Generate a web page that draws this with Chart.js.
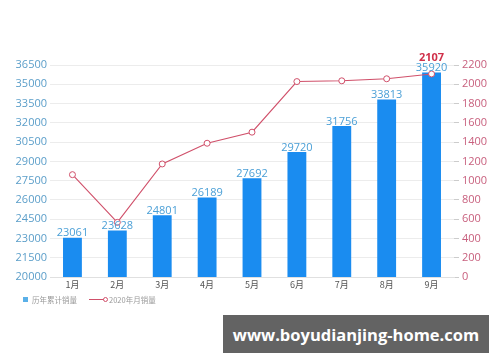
<!DOCTYPE html>
<html>
<head>
<meta charset="utf-8">
<script src="https://cdn.jsdelivr.net/npm/chart.js@4/dist/chart.umd.min.js"></script>
<style>
  body { margin: 0; background: #fff; }
  #wrap { position: relative; width: 500px; height: 362px; font-family: "Noto Sans CJK SC", "Noto Sans", sans-serif; }
  #legend { position: absolute; left: 23px; top: 294px; font-size: 7.5px; color: #999; display: flex; align-items: center; white-space: nowrap; }
  #legend .sq { display: inline-block; width: 5px; height: 5px; background: #5ab0e8; margin-right: 4px; }
  #legend .ln { position: relative; display: inline-block; width: 15px; height: 1px; background: #d0506a; margin: 0 5px 0 12px; }
  #legend .ln i { position: absolute; right: -4px; top: -2px; width: 3px; height: 3px; border: 1px solid #d0506a; border-radius: 50%; background: #fff; }
  #mark { position: absolute; left: 223px; top: 315px; width: 266px; height: 38px; background: #636363; color: #fff; white-space: nowrap;
          font: bold 16.5px "Open Sans", sans-serif; display: flex; align-items: center; justify-content: center; }
</style>
</head>
<body>
<div id="wrap">
  <canvas id="myChart" width="500" height="362"></canvas>
  <div id="legend"><span class="sq"></span>历年累计销量<span class="ln"><i></i></span>2020年月销量</div>
  <div id="mark">www.boyudianjing-home.com</div>
</div>
<script>
const months = ["1月", "2月", "3月", "4月", "5月", "6月", "7月", "8月", "9月"];
const totalSales = [23061, 23628, 24801, 26189, 27692, 29720, 31756, 33813, 35920];
const monthSales = [1062, 567, 1173, 1388, 1503, 2028, 2036, 2057, 2107];

// value labels: every bar, only the last point of the line
const labelPlugin = {
    id: "valueLabels",
    afterDatasetsDraw: (chart) => {
        const ctx = chart.ctx;
        ctx.save();
        ctx.textAlign = "center";
        ctx.textBaseline = "bottom";
        ctx.font = "11px 'Open Sans', sans-serif";
        ctx.fillStyle = "#4a9fd6";
        let lastTop = 0;
        chart.getDatasetMeta(0).data.forEach((bar, i) => {
            ctx.fillText(totalSales[i], bar.x, bar.y + 1);
            lastTop = bar.y + 1 - 10;
        });
        const pts = chart.getDatasetMeta(1).data;
        const last = pts[pts.length - 1];
        ctx.font = "bold 11px 'Open Sans', sans-serif";
        ctx.fillStyle = "#d0304a";
        ctx.fillText(monthSales[monthSales.length - 1], last.x, Math.min(last.y - 4, lastTop));
        ctx.restore();
    }
};

new Chart(document.getElementById("myChart"), {
    data: {
        labels: months,
        datasets: [
            {
                type: "bar",
                label: "历年累计销量",
                data: totalSales,
                backgroundColor: "#1a8cf0",
                barPercentage: 0.84,
                categoryPercentage: 0.5,
                yAxisID: "y",
                order: 2
            },
            {
                type: "line",
                label: "2020年月销量",
                data: monthSales,
                borderColor: "#d0506a",
                borderWidth: 1.1,
                pointRadius: 3,
                pointBorderWidth: 1,
                pointBackgroundColor: "#fff",
                pointBorderColor: "#d0506a",
                yAxisID: "y1",
                order: 1
            }
        ]
    },
    options: {
        responsive: false,
        animation: false,
        layout: { padding: { top: 65, bottom: 65, left: 0, right: 0 } },
        plugins: { legend: { display: false }, tooltip: { enabled: false } },
        scales: {
            x: {
                grid: { display: false, drawTicks: false },
                border: { color: "#e0e0e0" },
                ticks: { color: "#555", font: { size: 9, family: "'Noto Sans CJK SC'" }, padding: 2 },
                afterFit: (axis) => { axis.height = 20; }
            },
            y: {
                position: "left",
                min: 20000,
                max: 36500,
                ticks: { stepSize: 1500, color: "#5b9ec9", font: { size: 11, family: "'Open Sans'" }, padding: 3,
                         callback: (v) => String(v) },
                grid: { color: "#ececec", drawTicks: false },
                border: { display: false },
                afterFit: (axis) => { axis.width = 50; }
            },
            y1: {
                position: "right",
                min: 0,
                max: 2200,
                ticks: { stepSize: 200, color: "#c8607e", font: { size: 11, family: "'Open Sans'" }, padding: 3,
                         callback: (v) => String(v) },
                grid: { drawOnChartArea: false, color: "#cccccc", tickLength: 5 },
                border: { display: false },
                afterFit: (axis) => { axis.width = 46; }
            }
        }
    },
    plugins: [labelPlugin]
});
</script>
</body>
</html>
